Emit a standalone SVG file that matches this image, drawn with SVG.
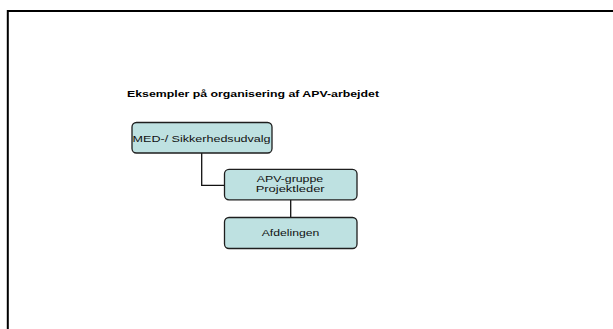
<svg xmlns="http://www.w3.org/2000/svg" width="613" height="329" viewBox="0 0 613 329">
<style>
.node rect{fill:#bee1e1;stroke:#1e1e1e;stroke-width:1.3}
.lbl{font-family:"Liberation Sans",Arial,sans-serif;font-size:9.5px;fill:#111}
.title{font-family:"Liberation Sans",Arial,sans-serif;font-size:9px;font-weight:bold;fill:#000}
.conn path{fill:none;stroke:#111;stroke-width:1.3}
</style>
<rect x="0" y="0" width="613" height="329" fill="#fff"/>
<path d="M7.8,329 V11 H613" fill="none" stroke="#000" stroke-width="2"/>
<text class="title" x="127" y="97" textLength="252" lengthAdjust="spacingAndGlyphs">Eksempler på organisering af APV-arbejdet</text>
<g class="conn" id="connectors">
<path d="M201.7,153 V185.3 H224.5"/>
<path d="M290.7,199.8 V217.5"/>
</g>
<g class="node" id="node-med">
<rect x="132" y="122.5" width="140" height="30.5" rx="4.5"/>
<text class="lbl" x="132.6" y="141.5" font-size="10.5" textLength="138" lengthAdjust="spacingAndGlyphs">MED-/ Sikkerhedsudvalg</text>
</g>
<g class="node" id="node-apv">
<rect x="224.5" y="169.3" width="132.5" height="30.5" rx="4.5"/>
<text class="lbl" x="256.7" y="182" textLength="66.5" lengthAdjust="spacingAndGlyphs">APV-gruppe</text>
<text class="lbl" x="255.7" y="192.3" textLength="69" lengthAdjust="spacingAndGlyphs">Projektleder</text>
</g>
<g class="node" id="node-afd">
<rect x="224.5" y="217.5" width="132.5" height="31" rx="4.5"/>
<text class="lbl" x="261.7" y="236" textLength="57.6" lengthAdjust="spacingAndGlyphs">Afdelingen</text>
</g>
</svg>
